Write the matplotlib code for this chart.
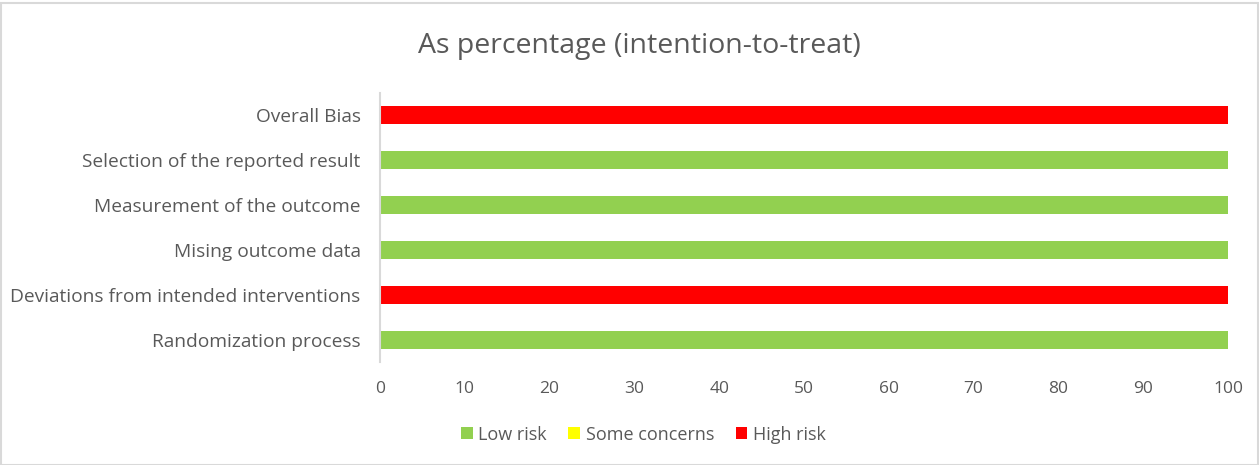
import numpy as np
import matplotlib.pyplot as plt
from matplotlib.patches import Rectangle

categorias = ["Randomization process", "Deviations from intended interventions",
              "Mising outcome data", "Measurement of the outcome",
              "Selection of the reported result", "Overall Bias"]
baixo = [100, 0, 100, 100, 100, 0]
algumas = [0, 0, 0, 0, 0, 0]
alto = [0, 100, 0, 0, 0, 100]
series = ["Low risk", "Some concerns", "High risk"]
cores = ["#92D050", "#FFFF00", "#FF0000"]
xticks = list(range(0, 101, 10))

plt.rcParams['font.family'] = ['Open Sans', 'DejaVu Sans']
texto = "#595959"

fig = plt.figure(figsize=(12.59, 4.65), dpi=100)
fig.patches.append(Rectangle((0.001, 0.001), 0.998, 0.993, transform=fig.transFigure,
                             fill=False, edgecolor="#D9D9D9", lw=1.5))
ax = fig.add_axes([0.3018, 0.2215, 0.6736, 0.5785])

y = np.arange(len(categorias))
esquerda = np.zeros(len(categorias))
for nome, vals, cor in zip(series, [baixo, algumas, alto], cores):
    ax.barh(y, vals, left=esquerda, height=0.4, color=cor, label=nome)
    esquerda += np.array(vals)

ax.set_xlim(0, 100)
ax.set_ylim(-0.5, len(categorias) - 0.5)
ax.set_yticks(y)
ax.set_yticklabels(categorias)
ax.set_xticks(xticks)
ax.tick_params(axis="both", length=0, colors=texto)
ax.tick_params(axis="x", pad=14, labelsize=12.5)
ax.tick_params(axis="y", pad=14, labelsize=13.8)
for s in ["top", "right", "bottom"]:
    ax.spines[s].set_visible(False)
ax.spines["left"].set_color("#D9D9D9")
ax.spines["left"].set_linewidth(1.5)

fig.text(0.508, 0.9, "As percentage (intention-to-treat)", ha="center", va="center",
         fontsize=20.5, color=texto)

leg = fig.legend(loc="center", bbox_to_anchor=(0.511, 0.065), ncol=3, frameon=False,
                 fontsize=13, handlelength=0.65, handleheight=0.65, handletextpad=0.3,
                 columnspacing=1.2)
for t in leg.get_texts():
    t.set_color(texto)

fig.savefig("out.png", dpi=100)
